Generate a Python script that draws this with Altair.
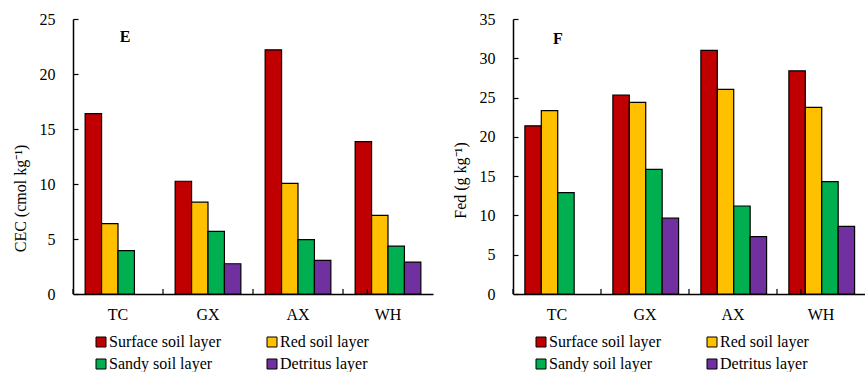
import altair as alt
import pandas as pd

FONT = "Liberation Serif"

sites = ["TC", "GX", "AX", "WH"]
layers = ["Surface soil layer", "Red soil layer", "Sandy soil layer", "Detritus layer"]
colors = ["#C00000", "#FFC000", "#00B050", "#7030A0"]

# CEC (cmol kg-1)
cec_surface = [16.4, 10.25, 22.2, 13.85]
cec_red = [6.4, 8.35, 10.05, 7.15]
cec_sandy = [3.95, 5.7, 4.95, 4.35]
cec_detritus = [None, 2.75, 3.05, 2.9]

# Fed (g kg-1)
fed_surface = [21.4, 25.3, 31.0, 28.4]
fed_red = [23.35, 24.4, 26.05, 23.75]
fed_sandy = [12.9, 15.85, 11.2, 14.3]
fed_detritus = [None, 9.65, 7.3, 8.6]

cec_ticks = [0, 5, 10, 15, 20, 25]
fed_ticks = [0, 5, 10, 15, 20, 25, 30, 35]

H = 275
P_IN = 0.27
P_OUT = 0.135


def make_df(series):
    rows = []
    for layer, vals in zip(layers, series):
        for s, v in zip(sites, vals):
            rows.append({"site": s, "layer": layer, "value": v})
    return pd.DataFrame(rows)


def panel(series, ymax, tick_vals, ytitle, letter, width, title_y, letter_xy):
    df = make_df(series)
    base = alt.Chart(df)
    xs = alt.Scale(domain=sites, paddingInner=P_IN, paddingOuter=P_OUT)
    ys = alt.Scale(domain=[0, ymax], nice=False, zero=True)
    step = width / (len(sites) - P_IN + 2 * P_OUT)
    half_gap = P_IN * step / 2
    x_axis = alt.Axis(
        title=None, labelAngle=0, ticks=False, tickSize=0, labelPadding=12,
        labelFontSize=16, labelFont=FONT, labelColor="black",
        domainColor="black", domainWidth=1.5)
    bars = base.mark_bar(stroke="black", strokeWidth=1.2).encode(
        x=alt.X("site:N", scale=xs, sort=sites, axis=x_axis),
        xOffset=alt.XOffset("layer:N", sort=layers,
                            scale=alt.Scale(domain=layers, paddingInner=0, paddingOuter=0)),
        y=alt.Y("value:Q", scale=ys, stack=None, axis=alt.Axis(
            values=tick_vals, title=ytitle, ticks=False, tickSize=0, labelPadding=18,
            grid=False, domainColor="black", domainWidth=1.5,
            labelFontSize=16, labelFont=FONT, labelColor="black",
            titleFont=FONT, titleFontSize=16, titleFontWeight="normal", titleColor="black",
            titleX=-53, titleY=title_y, titleAngle=270, titleAlign="center",
            titleBaseline="middle")),
        color=alt.Color("layer:N", scale=alt.Scale(domain=layers, range=colors),
                        legend=alt.Legend(
                            title=None, orient="none", legendX=20, legendY=315,
                            direction="horizontal",
                            columns=2, columnPadding=43, rowPadding=6, padding=0,
                            symbolType="square", symbolSize=100,
                            symbolStrokeColor="black", symbolStrokeWidth=1,
                            symbolOpacity=1,
                            labelFont=FONT, labelFontSize=16, labelColor="black",
                            labelOffset=0, labelLimit=300)),
    )
    # inward y ticks: a right-oriented axis moved onto the left edge
    ytick_layer = base.mark_point(opacity=0).encode(
        x=alt.X("site:N", scale=xs, sort=sites, axis=x_axis),
        y=alt.Y("value:Q", scale=ys, stack=None, axis=alt.Axis(
            orient="right", offset=-width, labels=False, domain=False, ticks=True,
            tickSize=5, values=tick_vals, tickColor="black", tickWidth=1.2,
            title=None, grid=False)),
    )
    # inward x ticks at the category boundaries
    xtick_a = alt.Chart(pd.DataFrame({"site": sites})).mark_rule(
        color="black", strokeWidth=1.2).encode(
        x=alt.X("site:N", scale=xs, sort=sites, axis=x_axis, bandPosition=0),
        xOffset=alt.value(-half_gap),
        y=alt.value(H - 5), y2=alt.value(H))
    xtick_b = alt.Chart(pd.DataFrame({"site": sites[-1:]})).mark_rule(
        color="black", strokeWidth=1.2).encode(
        x=alt.X("site:N", scale=xs, sort=sites, axis=x_axis, bandPosition=1),
        xOffset=alt.value(half_gap),
        y=alt.value(H - 5), y2=alt.value(H))
    lab = alt.Chart(pd.DataFrame({"t": [letter]})).mark_text(
        font=FONT, fontSize=16, fontWeight="bold", color="black"
    ).encode(x=alt.value(letter_xy[0]), y=alt.value(letter_xy[1]), text="t:N")
    return alt.layer(bars, ytick_layer, xtick_a, xtick_b, lab).resolve_axis(
        y="independent"
    ).properties(width=width, height=H)


left = panel([cec_surface, cec_red, cec_sandy, cec_detritus], 25, cec_ticks,
             "CEC (cmol kg⁻¹)", "E", 360, 179, (52, 18))
right = panel([fed_surface, fed_red, fed_sandy, fed_detritus], 35, fed_ticks,
              "Fed (g kg⁻¹)", "F", 352, 161, (45, 20))

chart = alt.hconcat(left, right, spacing=80, bounds="flush").resolve_scale(
    color="independent"
).configure(font=FONT).configure_view(stroke=None).configure_axis(
    labelFont=FONT, titleFont=FONT
).configure_legend(labelFont=FONT).properties(
    padding={"left": 12, "top": 11, "right": 0, "bottom": 0}
)

chart.save("out.html", embed_options={"renderer": "svg", "actions": False})
